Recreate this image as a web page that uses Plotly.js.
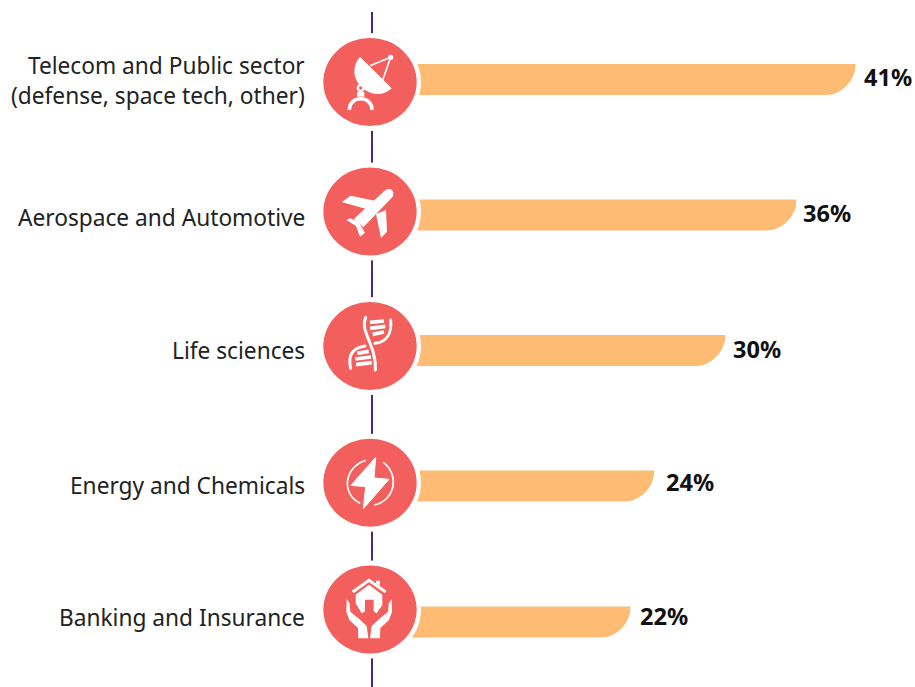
<!DOCTYPE html>
<html><head><meta charset="utf-8">
<script src="https://cdn.plot.ly/plotly-3.0.1.min.js"></script>
<style>html,body{margin:0;padding:0;background:#fff}#c{width:915px;height:687px}</style></head>
<body><div id="c"></div>
<script>
var categories = ["Telecom and Public sector<br>(defense, space tech, other)","Aerospace and Automotive","Life sciences","Energy and Chemicals","Banking and Insurance"];
var values = [41,36,30,24,22];
var valueLabels = ["41%","36%","30%","24%","22%"];
var barRows = [79.5,215,350.5,486,622];
var labelRows = [80.5,217,350,485,617];
var valueRows = [76.5,212.5,348.5,481.5,615.5];
var valueGaps = [7,5,6,10,8];
var iconRows = [82,211.5,346,482.7,609.5];

var W=915,H=687,PX=11.84,X0=370,BAR=31,R=29,FONT='"Noto Sans", sans-serif';
var CORAL='#f25f5c',BARC='#febb74',PURPLE='#4b2a6e',TXT='#222222';

var iconArt = [
 '<path d="M120 170 C98 195 96 232 122 258 C150 288 190 290 215 265 Z" fill="#fff"/>'+
 '<path d="M150 197 L212 172 L188 240" fill="none" stroke="#fff" stroke-width="5"/>'+
 '<circle cx="212" cy="172" r="8" fill="#fff"/>'+
 '<circle cx="122" cy="264" r="12" fill="#fff"/><circle cx="122" cy="264" r="5" fill="#f25f5c" />'+
 '<rect x="111" y="276" width="22" height="14" fill="#fff"/>'+
 '<path d="M88 330 C88 285 156 285 156 330" fill="none" stroke="#fff" stroke-width="11"/>',
 '<path d="M194 572 C210 560 226 572 218 590 L130 682 L102 656 Z" fill="#fff"/>'+
 '<path d="M65 606 L92 587 L172 604 L136 626 Z" fill="#fff"/>'+
 '<path d="M168 642 L198 630 L201 695 L183 714 Z" fill="#fff"/>'+
 '<path d="M79 660 L90 655 L114 664 L135 698 L120 710 L108 678 Z" fill="#fff"/>',
 '<path d="M137 82 C118 125 170 165 166 240" fill="none" stroke="#fff" stroke-width="9" stroke-linecap="round"/>'+
 '<path d="M212 90 C216 130 200 156 165 160" fill="none" stroke="#fff" stroke-width="9" stroke-linecap="round"/>'+
 '<path d="M92 235 C84 200 92 175 135 168" fill="none" stroke="#fff" stroke-width="9" stroke-linecap="round"/>'+
 '<path d="M150 97 L192 93 M150 115 L196 109 M158 133 L192 126 M112 190 L146 184 M106 207 L153 201 M108 224 L155 218" stroke="#fff" stroke-width="11" fill="none"/>',
 '<path d="M167 502 L93 586 L137 590 L130 656 L207 568 L162 564 Z" fill="#fff" stroke="#fff" stroke-width="3" stroke-linejoin="round"/>'+
 '<path d="M137 511 C75 530 60 610 121 640" fill="none" stroke="#fff" stroke-width="5"/>'+
 '<path d="M190 517 C240 555 225 632 163 645" fill="none" stroke="#fff" stroke-width="5"/>',
 '<path d="M98 126 L147 91 L197 126" fill="none" stroke="#fff" stroke-width="9"/>'+
 '<path d="M168 92 L180 92 L180 108 L168 100 Z" fill="#fff"/>'+
 '<path d="M107 134 L147 104 L187 134 L187 165 L170 190 L161 184 L161 149 L135 149 L135 184 L125 190 L107 160 Z" fill="#fff"/>'+
 '<path d="M80 148 L89 160 L91 185 L115 205 L140 228 L145 265 L115 265 L114 234 L88 210 L79 185 Z" fill="#fff"/>'+
 '<path d="M215 148 L206 160 L204 185 L180 205 L155 228 L150 265 L180 265 L181 234 L207 210 L216 185 Z" fill="#fff"/>'
];
var cropTop = [0,0,290,290,550];

var images = iconRows.map(function(cy,i){
  var zy=(cy-cropTop[i])*3;
  var svg='<svg xmlns="http://www.w3.org/2000/svg" viewBox="-6 '+(zy-150)+' 312 300" preserveAspectRatio="none" width="312" height="300">'+
    '<ellipse cx="150" cy="'+zy+'" rx="153" ry="147" fill="#fff"/>'+
    '<ellipse cx="150" cy="'+zy+'" rx="140" ry="132" fill="'+CORAL+'"/>'+iconArt[i]+'</svg>';
  return {source:'data:image/svg+xml;base64,'+btoa(svg),xref:'paper',yref:'paper',x:318/W,y:1-(cy-50)/H,
    sizex:104/W,sizey:100/H,sizing:'stretch',xanchor:'left',yanchor:'top',layer:'above'};
});

var shapes=[{type:'line',xref:'paper',yref:'y',x0:372/W,x1:372/W,y0:12,y1:687,line:{color:PURPLE,width:2},layer:'below'}];
values.forEach(function(v,i){
  var yb=barRows[i]+BAR/2, dx=R/PX, d=1/PX;
  shapes.push({type:'path',xref:'x',yref:'y',layer:'above',line:{width:0},fillcolor:'#fff',
    path:'M '+(v-dx)+' '+(yb+1)+' L '+(v-dx)+' '+yb+' C '+(v-dx*0.45)+' '+yb+' '+v+' '+(yb-R*0.55)+' '+v+' '+(yb-R)+' L '+(v+d)+' '+(yb-R)+' L '+(v+d)+' '+(yb+1)+' Z'});
});

var annotations=[];
categories.forEach(function(c,i){
  annotations.push({text:c,xref:'paper',yref:'y',x:307/W,y:labelRows[i],xanchor:'right',yanchor:'middle',align:'right',showarrow:false,font:{family:FONT,size:22.7,color:TXT}});
});
values.forEach(function(v,i){
  annotations.push({text:'<b>'+valueLabels[i]+'</b>',xref:'x',yref:'y',x:v,xshift:valueGaps[i],y:valueRows[i],xanchor:'left',yanchor:'middle',showarrow:false,font:{family:FONT,size:23.5,color:'#111'}});
});

Plotly.newPlot('c',[{type:'bar',orientation:'h',x:values,y:barRows,width:BAR,marker:{color:BARC,line:{width:0}},hoverinfo:'skip',cliponaxis:false}],{
  width:W,height:H,margin:{l:0,r:0,t:0,b:0},paper_bgcolor:'#fff',plot_bgcolor:'#fff',showlegend:false,
  xaxis:{range:[-X0/PX,(W-X0)/PX],visible:false,fixedrange:true},
  yaxis:{range:[H,0],visible:false,fixedrange:true},
  shapes:shapes,images:images,annotations:annotations
},{displayModeBar:false,staticPlot:true});
</script></body></html>
